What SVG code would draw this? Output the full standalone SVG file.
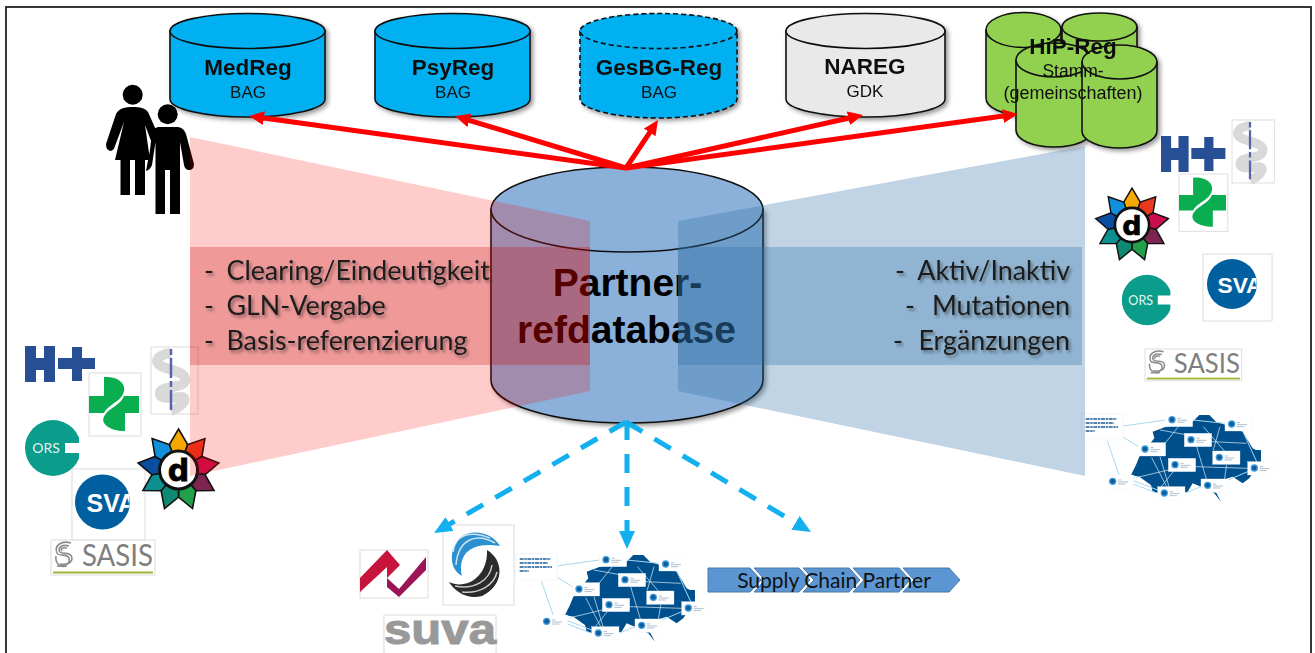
<svg xmlns="http://www.w3.org/2000/svg" width="1315" height="653" viewBox="0 0 1315 653">
<style>
.cyl{stroke:#111;stroke-width:1.6}
.blue{fill:#00b0f0}.grey{fill:#e9e9e9}.green{fill:#92d050}.central{fill:#8bb0d9}
.lab{font-family:"Liberation Sans",Arial,sans-serif;text-anchor:middle;fill:#111}
.b{font-weight:700;font-size:22.5px}.s{font-size:17px}
.big{font-family:"Liberation Sans",Arial,sans-serif;font-weight:700;font-size:39px;text-anchor:middle;fill:#000}
.item{font-family:Lato,"Open Sans",sans-serif;font-size:26.8px;fill:#1c1c1c}
.box{fill:#fff;stroke:#dcdcdc;stroke-width:1}
.red{stroke:#ff0000;stroke-width:5;fill:none}
.dash{stroke:#12b0ee;stroke-width:5;fill:none;stroke-dasharray:19 14}
.chev{fill:#5b96d3;stroke:#4a78a8;stroke-width:1}
</style>
<defs>
<filter id="sh" x="-10%" y="-10%" width="125%" height="125%"><feDropShadow dx="2.5" dy="2.5" stdDeviation="2" flood-color="#000" flood-opacity=".4"/></filter>
<filter id="ts" x="-5%" y="-20%" width="112%" height="150%"><feDropShadow dx="2" dy="2.5" stdDeviation="1.6" flood-color="#000" flood-opacity=".4"/></filter>
<marker id="ar" markerUnits="userSpaceOnUse" markerWidth="17" markerHeight="15" refX="2" refY="7" orient="auto"><path d="M0,0L15,7L0,14z" fill="#ff0000"/></marker>
<marker id="ab" markerUnits="userSpaceOnUse" markerWidth="20" markerHeight="18" refX="2" refY="8" orient="auto"><path d="M0,0L18,8L0,16z" fill="#12b0ee"/></marker>
<clipPath id="svac"><rect x="-30" y="-30" width="57" height="60"/></clipPath>
<g id="hplus" fill="#264f96"><path d="M0,0H11V12H19V0H30V36H19V24H11V36H0zM33,12H47V1H57V12H70V23H57V35H47V23H33z"/></g>
<g id="aesc"><rect class="box" width="47" height="67"/><path d="M20,6C5,8 2,16 12,20C26,25 36,26 34,34C32,42 8,38 9,47C10,53 20,50 31,50C38,52 30,60 20,64" fill="none" stroke="#d9d9d9" stroke-width="10"/><path d="M20,2V65" stroke="#5a64ae" stroke-width="2.5" stroke-dasharray="6 3 20 3"/></g>
<g id="cross"><rect class="box" width="52" height="63"/><path fill="#0aad50" d="M0,23H15V4C30,3 40,12 33,23C28,30 18,33 15,40H0zM50,23V40H36V58C20,58 10,50 16,42C20,35 32,32 35,23z"/></g>
<g id="ors"><circle r="28" fill="#0a9d8c"/><path fill="#fff" d="M26,-30H32V30H26zM12,-5H27V5H12z"/><text x="-7" y="5" font-family="Lato,'Open Sans',sans-serif" font-size="14" text-anchor="middle" fill="#e6f5f2">ORS</text></g>
<g id="sva"><circle r="27.5" fill="#00609f"/><g clip-path="url(#svac)"><text x="-16" y="10" font-family="'Liberation Sans',Arial,sans-serif" font-weight="700" font-size="25" fill="#fff">SVA</text></g></g>
<g id="sasis"><rect class="box" width="104" height="35" stroke="#ccc"/><g fill="none" stroke="#8c8c8c" stroke-width="1.6"><path d="M20,3C10,0 3,6 6,13C8,17 16,13 18,18C20,24 13,27 6,26"/><path d="M18,6C11,4 6,8 9,12C12,15 20,11 21,18C21,23 16,25 9,24"/><path d="M16,8C11,7 9,9 11,11"/><path d="M5,16C4,22 8,28 16,26"/></g><text x="31" y="26" font-family="Lato,'Open Sans',sans-serif" font-size="30" textLength="71" lengthAdjust="spacingAndGlyphs" fill="#7f7f7f">SASIS</text><rect x="2" y="31.5" width="100" height="2" fill="#a4b53a"/></g>
<g id="star" stroke="#111" stroke-width="1.6" stroke-linejoin="miter">
<path fill="#f7a800" d="M0,-41L9.200,-25.400L0,0L-9.200,-25.400z"/>
<path fill="#e8391d" d="M26.400,-31.400L23.400,-13.500L0,0L9.200,-25.400z"/>
<path fill="#c90f50" d="M40.400,-7.100L26.600,4.700L0,0L23.400,-13.500z"/>
<path fill="#7b2550" d="M35.500,20.500L17.400,20.700L0,0L26.600,4.700z"/>
<path fill="#23a04a" d="M14,38.500L0,27L0,0L17.400,20.700z"/>
<path fill="#0e8a72" d="M-14,38.500L-17.400,20.700L0,0L0,27z"/>
<path fill="#0e8f8f" d="M-35.500,20.500L-26.600,4.700L0,0L-17.400,20.700z"/>
<path fill="#0a4ea2" d="M-40.400,-7.100L-23.400,-13.500L0,0L-26.600,4.700z"/>
<path fill="#1190dc" d="M-26.400,-31.400L-9.200,-25.400L0,0L-23.400,-13.500z"/>
<circle r="19" fill="#fff" stroke-width="3"/><text x="0" y="11" font-family="'DejaVu Sans',sans-serif" font-weight="700" font-size="30" text-anchor="middle" fill="#000" stroke="#000" stroke-width=".8">d</text></g>
<g id="card"><rect width="82" height="40" fill="#fff" stroke="#eef3f7"/><circle cx="20" cy="19" r="11" fill="#3d9ad6"/><circle cx="20" cy="19" r="7" fill="#0f5c9c"/><path d="M36,15H46M36,21H66M36,27H58" stroke="#7a93ad" stroke-width="1.800"/></g>
<g id="map">
<path fill="#004f8d" d="M213,435L228,405L238,380L283,325L278,305L318,290L398,275L418,255H448L468,275L498,285L548,305L578,355L588,360H603V400L578,430L568,445L548,460L518,440L488,450L458,485L468,487L483,515L463,490L433,475L398,460L383,485L318,495L278,485L273,465L238,440z"/>
<g fill="none" stroke="#a8d8f0" stroke-width="3"><path d="M190,288L316,270M190,322L235,350M142,333L178,437M398,270L495,280M548,303L590,395M220,452L293,480M220,462L293,490M375,490L423,470M505,450L563,425"/></g>
<g fill="none" stroke="#cfe6f4" stroke-width="2.200"><path d="M300,380L330,480M355,290L315,340M410,350L440,450M430,290L495,365M275,383L320,470M500,405L490,470M220,445L325,420M405,410L563,415M455,335L560,340M300,300L410,320M480,290L460,360M340,425L300,475"/></g>
<rect x="65" y="250" width="125" height="80" fill="#fff" stroke="#dfe8ef"/><path d="M77,267H170M77,279H162M77,291H174M77,303H104" stroke="#1b5f99" stroke-width="4.500" stroke-dasharray="12 2 7 2"/>
<use href="#card" x="316" y="250"/><use href="#card" x="495" y="263"/><use href="#card" x="373" y="310"/><use href="#card" x="235" y="338"/><use href="#card" x="458" y="363"/><use href="#card" x="325" y="385"/><use href="#card" x="563" y="395"/><use href="#card" x="138" y="435"/><use href="#card" x="423" y="447"/><use href="#card" x="293" y="470"/>
</g>
</defs>
<rect id="frame" x="6" y="7" width="1305" height="670" fill="#fff" stroke="#222" stroke-width="1.800"/>

<g id="people" fill="#000">
<circle cx="132.700" cy="94.700" r="10"/>
<path d="M133,107C125,107 119,108 116,114L106,144Q106,151 111,151Q114,150 115,146L124,122L115,160H120.500V195H130V160H135V195H145V160H150L145,125L153,146L156,130L148,112C145,108 140,107 133,107z"/>
<circle cx="167.700" cy="114.300" r="10"/>
<path d="M158,127H178Q184,128 186,134L194,164Q194,170 189,170Q185,170 184,165L180,142V214H170V170H165V214H155.500V142L152,165Q150,170 146,171L150,150L152,132Q154,128 158,127z"/>
</g>

<g id="left-logos">
<use href="#hplus" x="25" y="346"/>
<use href="#aesc" x="151" y="347"/>
<use href="#cross" x="89" y="373"/>
<use href="#ors" x="53" y="448"/>
<rect class="box" x="72" y="469" width="73" height="71" stroke="#eee"/>
<use href="#sva" x="102.500" y="502"/>
<use href="#star" x="178.500" y="470"/>
<use href="#sasis" x="51" y="540"/>
</g>

<g id="right-logos">
<use href="#hplus" transform="translate(1161,136) scale(.92,1)"/>
<use href="#aesc" transform="translate(1232,120) scale(.9,.94)"/>
<use href="#cross" transform="translate(1179,174) scale(.94,.91)"/>
<use href="#star" transform="translate(1132,225) scale(.9)"/>
<use href="#ors" transform="translate(1147,300) scale(.9)"/>
<rect class="box" x="1203" y="254" width="69" height="67" stroke="#eee"/>
<use href="#sva" transform="translate(1232,284) scale(.91)"/>
<use href="#sasis" transform="translate(1145,349) scale(.93,.91)"/>
<use href="#map" transform="translate(1060,330) scale(.3333)"/>
</g>

<g id="bottom-logos">
<rect class="box" x="360" y="550" width="68" height="48" stroke="#ddd"/>
<path fill="#c8143c" d="M360,578L387,550L400,565L387,578V567L360,592z"/>
<path fill="#9a1456" d="M387,578L399,589L426,557V570L399,597L387,587z"/>
<rect class="box" x="443" y="525" width="71" height="80"/>
<path fill="#2b8fd0" d="M500,546C490,528 455,525 452,555C451,565 455,572 462,576C458,560 465,540 500,546z"/>
<path fill="#2b2b2b" d="M487,550C504,560 505,585 482,596C468,600 455,592 449,582C465,590 488,578 487,550z"/>
<g fill="none" stroke="#fff" stroke-width="1.500" opacity=".75"><path d="M495,543C475,532 458,540 456,565M490,538C470,530 455,535 453,552"/><path d="M492,565C490,580 475,590 455,586M497,572C494,585 480,594 462,592"/></g>
<rect class="box" x="384" y="615" width="112" height="50" stroke="#ccc"/>
<text x="384" y="643.500" font-family="'Liberation Sans',Arial,sans-serif" font-weight="700" font-size="43" textLength="112" lengthAdjust="spacingAndGlyphs" fill="#999" stroke="#999" stroke-width="1">suva</text>
<use href="#map" transform="translate(494,470) scale(.3333)"/>
</g>

<g id="supply-chain">
<path class="chev" d="M708,568H750L761,580L750,592H708z"/>
<path class="chev" d="M754,568H799L810,580L799,592H754L765,580z"/>
<path class="chev" d="M803,568H849L860,580L849,592H803L814,580z"/>
<path class="chev" d="M853,568H899L910,580L899,592H853L864,580z"/>
<path class="chev" d="M903,568H949L960,580L949,592H903L914,580z"/>
<text x="834" y="588" font-family="Lato,'Open Sans',sans-serif" font-size="21" text-anchor="middle" fill="#111">Supply Chain Partner</text>
</g>

<g id="medreg" filter="url(#sh)">
<path class="cyl blue" d="M170,31V99C170,109 205,117 247.500,117S325,109 325,99V31z"/><ellipse class="cyl blue" cx="247.500" cy="31" rx="77.500" ry="17.500"/>
<text class="lab b" x="248" y="74.500">MedReg</text><text class="lab s" x="248" y="98">BAG</text>
</g>
<g id="psyreg" filter="url(#sh)">
<path class="cyl blue" d="M375,31V99C375,109 410,117 452.500,117S530,109 530,99V31z"/><ellipse class="cyl blue" cx="452.500" cy="31" rx="77.500" ry="17.500"/>
<text class="lab b" x="453" y="74.500">PsyReg</text><text class="lab s" x="453" y="98">BAG</text>
</g>
<g id="gesbg" filter="url(#sh)">
<path class="cyl blue" stroke-dasharray="5 3" d="M580,31V99C580,109 615,118 658.500,118S737,109 737,99V31z"/><ellipse class="cyl blue" stroke-dasharray="5 3" cx="658.500" cy="31" rx="78.500" ry="17.500"/>
<text class="lab b" x="659" y="74.500">GesBG-Reg</text><text class="lab s" x="659" y="98">BAG</text>
</g>
<g id="nareg" filter="url(#sh)">
<path class="cyl grey" d="M786,31V99C786,109 822,117 865.500,117S945,109 945,99V31z"/><ellipse class="cyl grey" cx="865.500" cy="31" rx="79.500" ry="17.500"/>
<text class="lab b" x="865" y="74">NAREG</text><text class="lab s" x="865" y="97">GDK</text>
</g>
<g id="hipreg" filter="url(#sh)">
<path class="cyl green" d="M986,30V98C986,108 1003,115 1023.500,115S1061,108 1061,98V30z"/><ellipse class="cyl green" cx="1023.500" cy="30" rx="37.500" ry="17.500"/>
<path class="cyl green" d="M1062,27V90C1062,100 1080,108 1099.500,108S1137,100 1137,90V27z"/><ellipse class="cyl green" cx="1099.500" cy="27" rx="37.500" ry="14"/>
<path class="cyl green" d="M1016,60V130C1016,140 1033,147 1054,147S1092,140 1092,130V60z"/><ellipse class="cyl green" cx="1054" cy="60" rx="38" ry="17"/>
<path class="cyl green" d="M1082,62V131C1082,141 1100,148 1119.500,148S1157,141 1157,131V62z"/><ellipse class="cyl green" cx="1119.500" cy="62" rx="37.500" ry="17"/>
<text class="lab b" x="1073" y="54">HiP-Reg</text><text class="lab" x="1073" y="77" font-size="17.500">Stamm-</text><text class="lab" x="1073" y="99" font-size="18">(gemeinschaften)</text>
</g>

<g id="partnerdb">
<path class="cyl central" filter="url(#sh)" d="M491,209V380C491,404 552,423 627,423S763,404 763,380V209z"/>
<ellipse class="cyl central" cx="627" cy="209.500" rx="136" ry="42.500"/>
<text class="big" x="627.500" y="296">Partner-</text><text class="big" x="626.500" y="343">refdatabase</text>
</g>

<g id="overlays">
<path fill="#ff0000" opacity=".2" d="M190,137L590,221V391L190,476z"/>
<path fill="#2d6fa8" opacity=".3" d="M678,221L1085,146V476L678,391z"/>
<rect x="190" y="247" width="400" height="118" fill="#c00000" opacity=".25"/>
<rect x="678" y="247" width="404" height="118" fill="#2d6fa8" opacity=".32"/>
</g>

<g id="left-list" class="item" filter="url(#ts)">
<text><tspan x="204" y="280">-</tspan><tspan x="226.500">Clearing/Eindeutigkeit</tspan></text>
<text><tspan x="204" y="315">-</tspan><tspan x="226.500">GLN-Vergabe</tspan></text>
<text><tspan x="204" y="350">-</tspan><tspan x="226.500">Basis-referenzierung</tspan></text>
</g>
<g id="right-list" class="item" filter="url(#ts)">
<text x="895" y="280">-</text><text x="1070" y="280" text-anchor="end">Aktiv/Inaktiv</text>
<text x="905" y="315">-</text><text x="1070" y="315" text-anchor="end">Mutationen</text>
<text x="893" y="350">-</text><text x="1070" y="350" text-anchor="end">Ergänzungen</text>
</g>

<g id="connectors">
<path class="red" marker-end="url(#ar)" d="M626,168L262,117.800"/>
<path class="red" marker-end="url(#ar)" d="M626,168L467.500,119.800"/>
<path class="red" marker-end="url(#ar)" d="M626,168L650.800,130.800"/>
<path class="red" marker-end="url(#ar)" d="M626,168L850.300,117.800"/>
<path class="red" marker-end="url(#ar)" d="M626,168L1005,115.800"/>
<path class="dash" marker-end="url(#ab)" d="M626,422L447.900,525"/>
<path class="dash" marker-end="url(#ab)" d="M627,421V533"/>
<path class="dash" marker-end="url(#ab)" d="M626,422L797.200,523.800"/>
</g>
</svg>
